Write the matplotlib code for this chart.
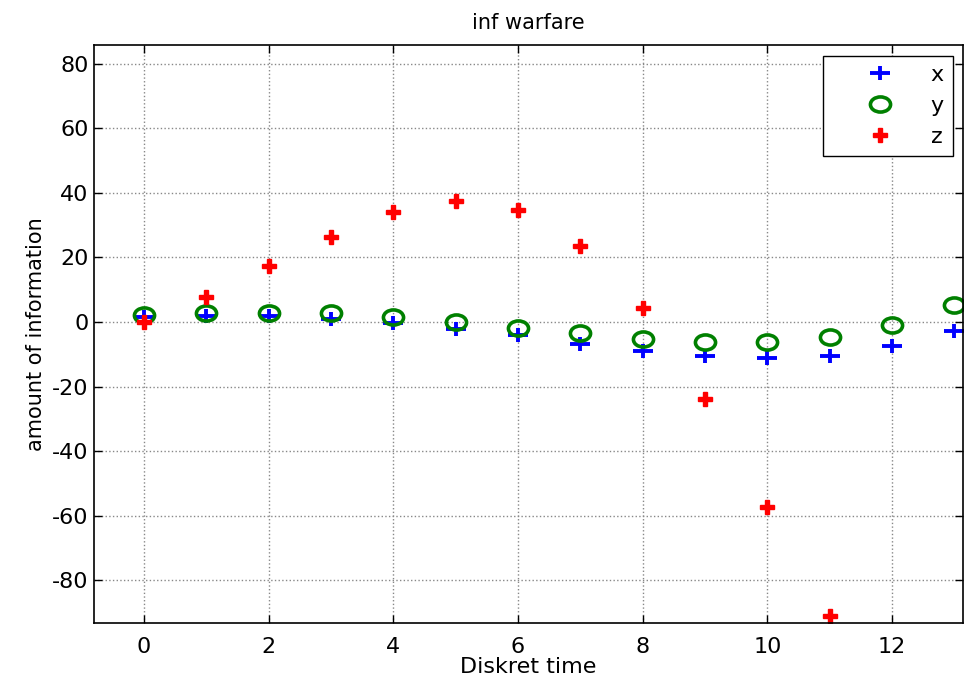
import matplotlib.pyplot as plt
from matplotlib.path import Path
from matplotlib.transforms import Affine2D

plt.rcParams['font.family'] = ['DejaVu Sans']
plt.rcParams['axes.unicode_minus'] = False

t = list(range(14))
x_vals = [1.5, 1.8, 1.8, 0.9, -0.3, -2.1, -4.1, -6.7, -9.1, -10.6, -11.1, -10.4, -7.3, -2.7]
y_vals = [2.3, 2.7, 2.7, 2.7, 1.7, 0.0, -1.7, -3.4, -5.3, -6.3, -6.3, -4.6, -1.0, 5.2]
t_z = list(range(12))
z_vals = [0.0, 7.9, 17.3, 26.3, 34.2, 37.4, 34.7, 23.6, 4.2, -23.7, -57.4, -91.0]

# the original picture is stretched sideways, so markers are a bit wide
wide_plus = Path([(-1, 0), (1, 0), (0, -0.72), (0, 0.72)],
                 [Path.MOVETO, Path.LINETO, Path.MOVETO, Path.LINETO])
wide_ring = Path.unit_circle().transformed(Affine2D().scale(1, 0.75))

fig = plt.figure(figsize=(9.65, 6.83), dpi=100)
ax = fig.add_axes([0.0974, 0.0874, 0.9006, 0.8463])

ax.plot(t, x_vals, linestyle='none', marker=wide_plus, markerfacecolor='none',
        markeredgecolor='#0000ff', markersize=14, markeredgewidth=2.8, label='x')
ax.plot(t, y_vals, linestyle='none', marker=wide_ring, markerfacecolor='none',
        markeredgecolor='#008000', markersize=14.5, markeredgewidth=2.6, label='y')
ax.plot(t_z, z_vals, linestyle='none', marker='P', color='#ff0000',
        markersize=10.5, markeredgewidth=1, label='z')

ax.set_xlim(-0.8, 13.14)
ax.set_ylim(-93.3, 85.7)
ax.set_xticks(range(0, 13, 2))
ax.set_yticks(range(-80, 81, 20))
ax.grid(True, color='#888888', linestyle=':', linewidth=1)
ax.tick_params(direction='in', labelsize=16, length=6, width=1, top=True, right=True,
               labeltop=False, labelright=False)
ax.tick_params(axis='x', pad=10)
ax.tick_params(axis='y', pad=4)
for s in ax.spines.values():
    s.set_linewidth(1.2)

ax.set_title('inf warfare', fontsize=15, pad=12)
ax.set_xlabel('Diskret time', fontsize=16, labelpad=0)
ax.set_ylabel('amount of information', fontsize=15, labelpad=4)

leg = ax.legend(loc='upper right', bbox_to_anchor=(0.988, 0.9815), fontsize=16,
                fancybox=False, edgecolor='black', framealpha=1,
                handlelength=4.3, handletextpad=0.15, borderpad=0.4, labelspacing=0.5,
                borderaxespad=0)
leg.get_frame().set_linewidth(1)

fig.savefig('out.png')
